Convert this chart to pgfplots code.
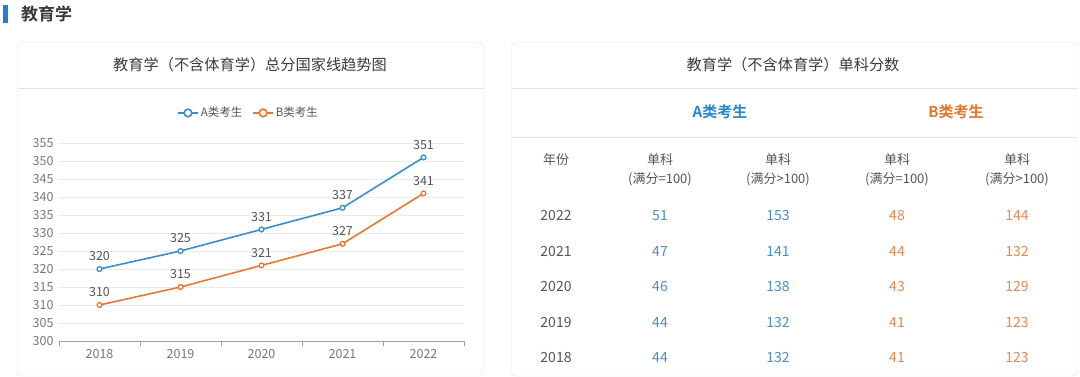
\documentclass[border=0pt]{standalone}
\usepackage{fontspec}
\setmainfont{Noto Sans CJK SC}[BoldFont={Noto Sans CJK SC Bold}]
\usepackage{pgfplots}
\pgfplotsset{compat=1.18}
\definecolor{barblue}{HTML}{1F7FD0}
\definecolor{dark}{HTML}{3A3A3A}
\definecolor{txt}{HTML}{555555}
\definecolor{lgray}{HTML}{777777}
\definecolor{border}{HTML}{E2E2E2}
\definecolor{gridc}{HTML}{EBEBEB}
\definecolor{lineA}{HTML}{3A8FCB}
\definecolor{lineB}{HTML}{E8792F}
\definecolor{hA}{HTML}{2B86CC}
\definecolor{hB}{HTML}{E0782E}
\definecolor{nA}{HTML}{4A8EC6}
\definecolor{nB}{HTML}{E08A55}
\pgfplotstableread{
x y
0 320
1 325
2 331
3 337
4 351
}\seriesA
\pgfplotstableread{
x y
0 310
1 315
2 321
3 327
4 341
}\seriesB
\begin{document}
\begin{tikzpicture}[x=1pt,y=-1pt]
\path[fill=white] (0,0) rectangle (1080,377);
% header
\fill[barblue] (3,5) rectangle (7.5,23);
\node[anchor=west,inner sep=0pt,font=\fontsize{17}{19}\selectfont\bfseries,text=dark] at (21,13.5) {教育学};
% left panel
\draw[border,rounded corners=4pt] (17.5,42.5) rectangle (483.5,376);
\draw[border] (17.5,88.5) -- (483.5,88.5);
\node[font=\fontsize{15.2}{17}\selectfont,text=dark] at (250,65) {教育学（不含体育学）总分国家线趋势图};
% right panel
\draw[border,rounded corners=4pt] (511.5,42.5) rectangle (1077,376);
\draw[border] (511.5,88.5) -- (1077,88.5);
\draw[border] (511.5,137.5) -- (1077,137.5);
\node[font=\fontsize{15.2}{17}\selectfont,text=dark] at (793,65) {教育学（不含体育学）单科分数};
\node[font=\fontsize{15}{17}\selectfont\bfseries,text=hA] at (720,112) {A类考生};
\node[font=\fontsize{15}{17}\selectfont\bfseries,text=hB] at (956,112) {B类考生};
\begin{scope}[font=\fontsize{13}{15}\selectfont,text=txt]
\node at (556,160) {年份};
\foreach \cx/\lab in {660/{(满分=100)},778/{(满分>100)},897/{(满分=100)},1017/{(满分>100)}}{
  \node at (\cx,160) {单科};
  \node at (\cx,179) {\lab};
}
\end{scope}
\begin{scope}[font=\fontsize{14}{16}\selectfont]
\foreach \ry/\yr/\a/\b/\c/\d in {216/2022/51/153/48/144,252/2021/47/141/44/132,287/2020/46/138/43/129,323/2019/44/132/41/123,358/2018/44/132/41/123}{
  \node[text=txt] at (556,\ry) {\yr};
  \node[text=nA] at (660,\ry) {\a};
  \node[text=nA] at (778,\ry) {\b};
  \node[text=nB] at (897,\ry) {\c};
  \node[text=nB] at (1017,\ry) {\d};
}
\end{scope}
% chart
\begin{axis}[
  at={(59pt,-341pt)}, anchor=south west,
  width=405pt, height=198pt, scale only axis,
  xmin=-0.5, xmax=4.5, ymin=300, ymax=355,
  xtick={0,1,2,3,4}, xticklabels={2018,2019,2020,2021,2022},
  ytick={300,305,...,355},
  major tick length=0pt,
  extra x ticks={-0.5,0.5,1.5,2.5,3.5,4.5}, extra x tick labels={},
  extra x tick style={major tick length=5pt, tick align=outside, tick style={lgray!70}},
  axis x line*=bottom, axis y line*=left,
  y axis line style={draw=none},
  x axis line style={lgray!70, line width=0.8pt},
  ymajorgrids, grid style={gridc, line width=0.6pt},
  tick label style={font=\fontsize{12.5}{14}\selectfont, text=lgray},
  yticklabel style={xshift=-2pt},
  xticklabel style={yshift=-5pt},
  /pgf/number format/assume math mode=true,
  clip=false,
  nodes near coords,
  every node near coord/.append style={font=\fontsize{12.5}{14}\selectfont, text=txt, yshift=4pt},
  legend style={at={(0.468,1.152)}, anchor=center, draw=none, fill=none,
    font=\fontsize{11.5}{13}\selectfont, text=txt, legend columns=2,
    /tikz/every even column/.append style={column sep=8pt}},
  legend image code/.code={\draw[#1,mark=none] (0pt,0pt) -- (20pt,0pt); \draw[#1,mark=none,fill=white] (10pt,0pt) circle (3.8pt);},
]
\addplot[lineA, line width=1.6pt, mark=*, mark size=2.4pt, mark options={fill=white, line width=1.3pt}] table[x=x,y=y] {\seriesA};
\addlegendentry{A类考生}
\addplot[lineB, line width=1.6pt, mark=*, mark size=2.4pt, mark options={fill=white, line width=1.3pt}] table[x=x,y=y] {\seriesB};
\addlegendentry{B类考生}
\end{axis}
\end{tikzpicture}
\end{document}
